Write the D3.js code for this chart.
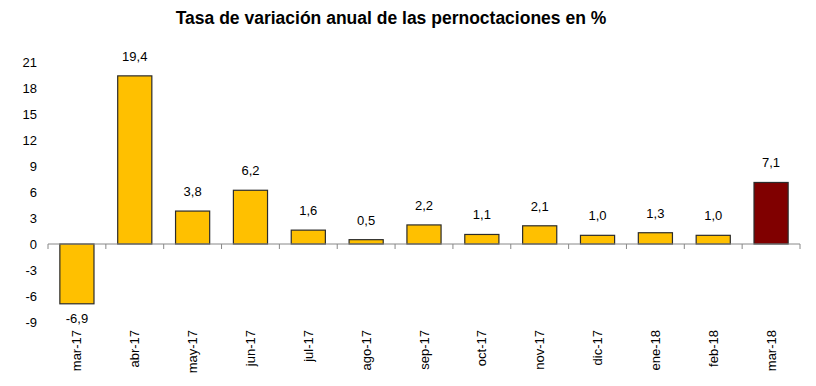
<!DOCTYPE html>
<html>
<head>
<meta charset="utf-8">
<script src="https://cdn.jsdelivr.net/npm/d3@7"></script>
<style>
  body { margin: 0; background: #fff; }
  text { font-family: "Liberation Sans", Arial, sans-serif; fill: #000; }
</style>
</head>
<body>
<div id="chart"></div>
<script>
// data
var months = ["mar-17", "abr-17", "may-17", "jun-17", "jul-17", "ago-17", "sep-17",
  "oct-17", "nov-17", "dic-17", "ene-18", "feb-18", "mar-18"];
var values = [-6.9, 19.4, 3.8, 6.2, 1.6, 0.5, 2.2, 1.1, 2.1, 1.0, 1.3, 1.0, 7.1];
var yTicks = [-9, -6, -3, 0, 3, 6, 9, 12, 15, 18, 21];

var svgWidth = 816;
var svgHeight = 386;

var svg = d3.select("#chart")
  .append("svg")
  .attr("width", svgWidth)
  .attr("height", svgHeight);

// title
svg.append("text")
  .attr("x", 391)
  .attr("y", 24)
  .attr("text-anchor", "middle")
  .attr("font-size", "17.5px")
  .attr("font-weight", "bold")
  .text("Tasa de variación anual de las pernoctaciones en %");

// scales
var xScale = d3.scaleBand()
  .domain(months)
  .range([48, 800])
  .paddingInner(0.41)
  .paddingOuter(0.205);

var yScale = d3.scaleLinear()
  .domain([-9, 21])
  .range([322, 62]);

// comma decimal, plain hyphen for minus
var fmt = function(v) { return d3.format(".1f")(v).replace(".", ",").replace("\u2212", "-"); };

// y tick labels (no axis line)
svg.append("g")
  .selectAll("text")
  .data(yTicks)
  .enter()
  .append("text")
  .attr("x", 37)
  .attr("y", d => yScale(d))
  .attr("dy", "0.35em")
  .attr("text-anchor", "end")
  .attr("font-size", "13px")
  .text(d => d);

// bars
svg.append("g")
  .selectAll("rect")
  .data(values)
  .enter()
  .append("rect")
  .attr("x", (d, i) => xScale(months[i]))
  .attr("y", d => yScale(Math.max(0, d)))
  .attr("width", xScale.bandwidth())
  .attr("height", d => Math.abs(yScale(d) - yScale(0)))
  .attr("fill", (d, i) => i == values.length - 1 ? "#800000" : "#FFC000")
  .attr("stroke", "#2b2b2b")
  .attr("stroke-width", 1.2);

// x axis line with ticks between categories
var xAxisG = svg.append("g");
xAxisG.append("line")
  .attr("x1", 48).attr("x2", 800)
  .attr("y1", yScale(0)).attr("y2", yScale(0))
  .attr("stroke", "#888");
var bounds = months.map(m => xScale(m) - xScale.step() * xScale.paddingInner() / 2);
bounds.push(800);
bounds[0] = 48;
xAxisG.selectAll(".tk")
  .data(bounds)
  .enter()
  .append("line")
  .attr("x1", d => d).attr("x2", d => d)
  .attr("y1", yScale(0)).attr("y2", yScale(0) + 5)
  .attr("stroke", "#888");

// value labels
svg.append("g")
  .selectAll("text")
  .data(values)
  .enter()
  .append("text")
  .attr("x", (d, i) => xScale(months[i]) + xScale.bandwidth() / 2)
  .attr("y", d => d >= 0 ? yScale(d) - 15 : yScale(d) + 19)
  .attr("text-anchor", "middle")
  .attr("font-size", "13px")
  .text(d => fmt(d));

// category labels rotated
svg.append("g")
  .selectAll("text")
  .data(months)
  .enter()
  .append("text")
  .attr("transform", d => `translate(${xScale(d) + xScale.bandwidth() / 2}, 330) rotate(-90)`)
  .attr("dy", "0.35em")
  .attr("text-anchor", "end")
  .attr("font-size", "13px")
  .text(d => d);
</script>
</body>
</html>
